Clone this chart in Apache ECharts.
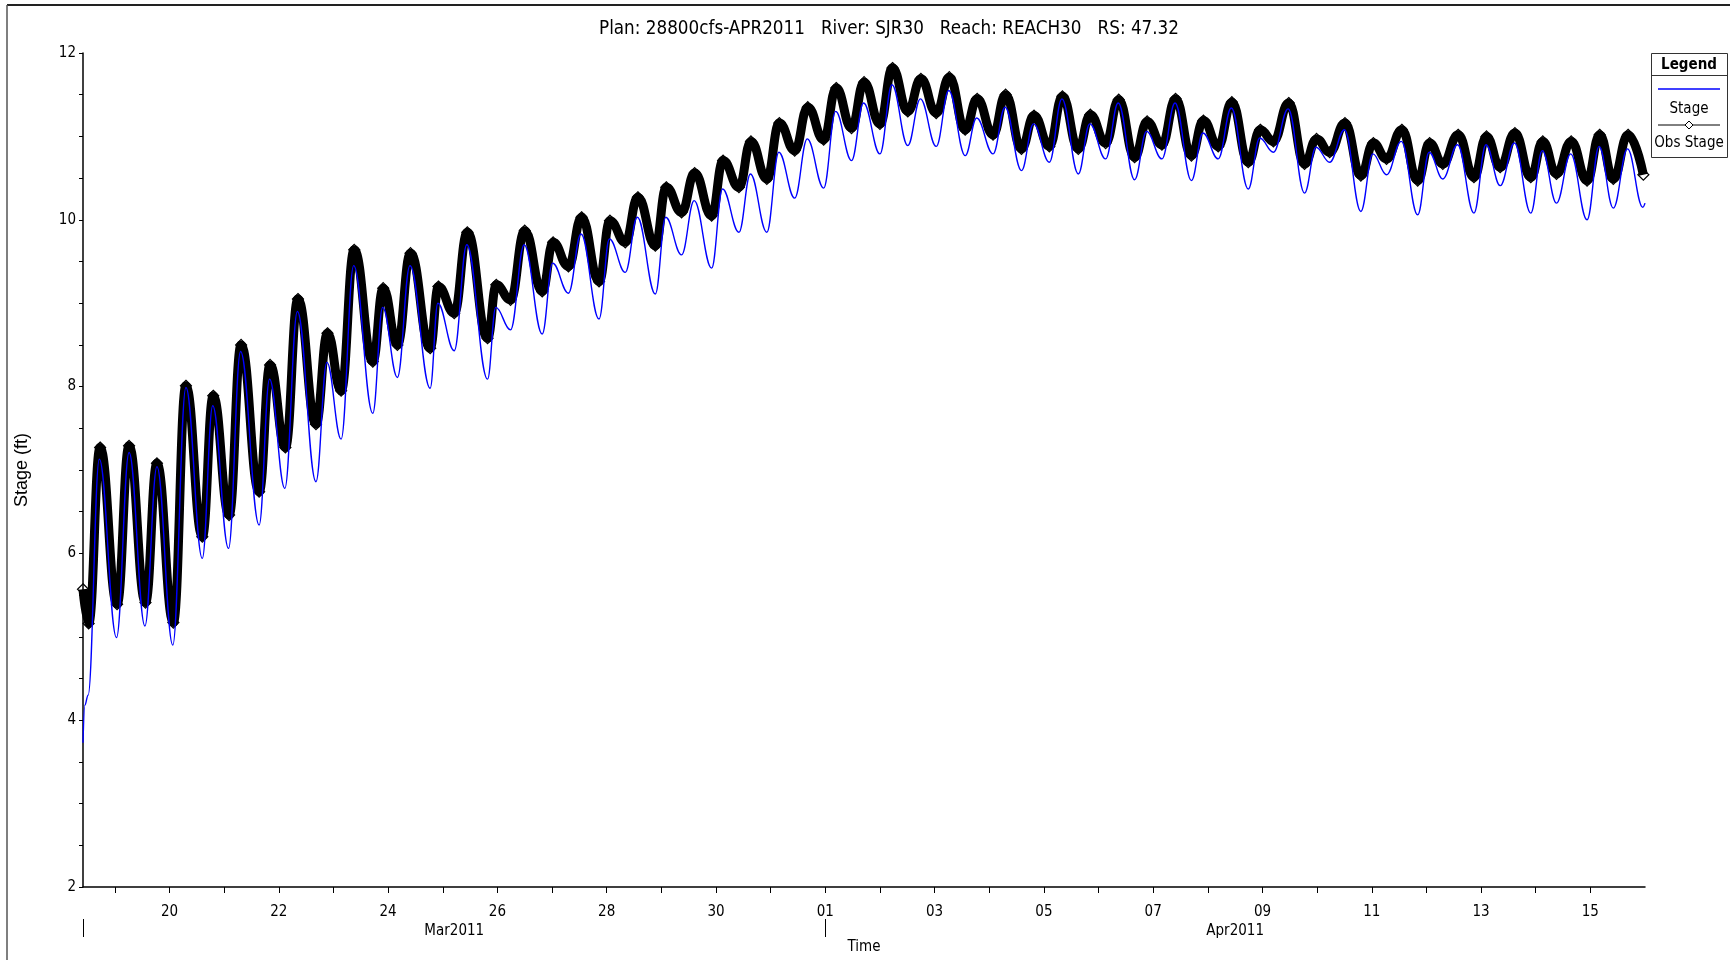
<!DOCTYPE html>
<html><head><meta charset="utf-8">
<script src="https://cdn.jsdelivr.net/npm/echarts@6/dist/echarts.min.js"></script>
<style>html,body{margin:0;padding:0;background:#fff}#c{width:1730px;height:960px}</style>
</head><body><div id="c"></div>
<script>
// ---- data (x = day number: Mar d = d, Apr d = 31 + d) ----
const titleText = 'Plan: 28800cfs-APR2011   River: SJR30   Reach: REACH30   RS: 47.32';
const xMin = 18.4167, xMax = 47;
const stageDays = [18.4167,18.45,18.51,18.715,19.03,19.26,19.55,19.77,20.06,20.30,20.60,20.79,21.08,21.30,21.64,21.83,22.11,22.34,22.68,22.88,23.14,23.37,23.72,23.90,24.17,24.40,24.77,24.91,25.21,25.44,25.82,25.97,26.24,26.49,26.82,27.01,27.30,27.53,27.86,28.05,28.34,28.56,28.89,29.08,29.37,29.60,29.92,30.12,30.42,30.63,30.93,31.15,31.44,31.67,31.97,32.19,32.48,32.70,33.00,33.22,33.51,33.74,34.03,34.26,34.56,34.77,35.07,35.29,35.59,35.81,36.10,36.33,36.63,36.84,37.13,37.36,37.66,37.88,38.16,38.40,38.70,38.91,39.19,39.43,39.74,39.95,40.20,40.47,40.77,40.98,41.23,41.50,41.80,42.02,42.27,42.54,42.84,43.05,43.30,43.57,43.87,44.09,44.35,44.61,44.91,45.12,45.38,45.64,45.94,46.16,46.42,46.68,46.96,47.0];
const stageValues = [3.73,4.18,4.30,7.13,4.99,7.21,5.13,7.04,4.90,7.99,5.94,7.77,6.06,8.42,6.34,8.09,6.78,8.90,6.86,8.29,7.37,9.45,7.68,8.95,8.11,9.45,7.98,9.00,8.43,9.70,8.09,8.95,8.68,9.70,8.63,9.48,9.12,9.83,8.81,9.77,9.37,10.03,9.11,10.03,9.58,10.23,9.42,10.37,9.85,10.55,9.85,10.81,10.26,10.97,10.38,11.30,10.71,11.40,10.79,11.62,10.89,11.45,10.88,11.55,10.77,11.22,10.79,11.35,10.59,11.15,10.69,11.45,10.55,11.15,10.73,11.40,10.48,11.06,10.73,11.40,10.47,11.04,10.73,11.34,10.37,10.98,10.81,11.33,10.32,10.87,10.69,11.08,10.10,10.79,10.54,10.94,10.06,10.81,10.49,10.90,10.08,10.90,10.41,10.92,10.08,10.83,10.20,10.79,10.00,10.88,10.14,10.85,10.15,10.20];
const obsDays = [18.4167,18.52,18.73,19.04,19.26,19.56,19.77,20.07,20.30,20.60,20.80,21.09,21.31,21.64,21.84,22.12,22.35,22.68,22.89,23.14,23.38,23.72,23.91,24.17,24.41,24.77,24.92,25.21,25.45,25.82,25.98,26.24,26.50,26.82,27.02,27.30,27.54,27.86,28.06,28.34,28.57,28.89,29.09,29.37,29.61,29.92,30.13,30.42,30.64,30.93,31.16,31.44,31.68,31.97,32.20,32.48,32.71,33.00,33.23,33.51,33.75,34.03,34.27,34.56,34.78,35.07,35.30,35.59,35.82,36.10,36.34,36.63,36.85,37.13,37.37,37.66,37.89,38.16,38.41,38.70,38.92,39.19,39.44,39.74,39.96,40.20,40.48,40.77,40.99,41.23,41.51,41.80,42.03,42.27,42.55,42.84,43.06,43.30,43.58,43.87,44.10,44.35,44.62,44.91,45.13,45.38,45.65,45.94,46.17,46.42,46.69,46.97];
const obsValues = [5.57,5.16,7.27,5.39,7.29,5.41,7.08,5.17,8.01,6.20,7.89,6.46,8.50,6.74,8.26,7.27,9.05,7.55,8.64,7.95,9.64,8.30,9.18,8.50,9.60,8.46,9.20,8.88,9.85,8.58,9.22,9.04,9.87,9.14,9.73,9.44,10.03,9.26,9.99,9.73,10.27,9.69,10.39,10.09,10.56,10.05,10.71,10.39,10.94,10.49,11.16,10.83,11.35,10.96,11.58,11.10,11.65,11.15,11.82,11.30,11.69,11.28,11.71,11.08,11.45,11.02,11.50,10.85,11.25,10.88,11.48,10.85,11.26,10.92,11.44,10.75,11.18,10.90,11.45,10.77,11.19,10.88,11.41,10.69,11.08,10.94,11.40,10.67,10.97,10.81,11.16,10.53,10.92,10.73,11.08,10.47,10.92,10.67,11.02,10.51,11.00,10.63,11.04,10.51,10.94,10.55,10.94,10.47,11.02,10.49,11.02,10.54];
const dayTicks = [19,20,21,22,23,24,25,26,27,28,29,30,31,32,33,34,35,36,37,38,39,40,41,42,43,44,45,46];
const dayLabels = [20,22,24,26,28,30,32,34,36,38,40,42,44,46];
const monthStarts = [18.4167, 32];
const monthLabelDays = [25.21, 39.5];
const monthNames = ['Mar2011', 'Apr2011'];
const seriesNames = ['Stage', 'Obs Stage'];

const NARROW = "'Liberation Sans Narrow','Arial Narrow','DejaVu Sans Condensed','Liberation Sans',sans-serif";
const REG = "'Liberation Sans',Arial,sans-serif";

const chart = echarts.init(document.getElementById('c'), null, {renderer: 'canvas'});
const dayText = v => { const n = Math.round(v); return n <= 31 ? String(n) : String(n - 31).padStart(2, '0'); };

const option = {
  animation: false,
  backgroundColor: '#fff',
  title: {text: titleText, left: 594, top: 15,
    textStyle: {fontFamily: NARROW, fontSize: 18.7, fontWeight: 'normal', color: '#000'}},
  grid: {left: 83, top: 53, right: 85, bottom: 66, containLabel: false},
  xAxis: [{
    type: 'value', min: xMin, max: xMax, position: 'bottom',
    name: 'Time', nameLocation: 'middle', nameGap: 53,
    nameTextStyle: {fontFamily: NARROW, fontSize: 15, color: '#000'},
    axisLine: {show: true, onZero: false, lineStyle: {color: '#000', width: 1.5}},
    axisTick: {show: true, customValues: dayTicks, length: 6, lineStyle: {color: '#000', width: 1}},
    axisLabel: {customValues: dayLabels, formatter: dayText, margin: 18,
      fontFamily: NARROW, fontSize: 15, color: '#000'},
    splitLine: {show: false}
  }, {
    type: 'value', min: xMin, max: xMax, position: 'bottom', offset: 32,
    axisLine: {show: false},
    axisTick: {show: true, customValues: monthStarts, length: 18, lineStyle: {color: '#000', width: 1}},
    axisLabel: {customValues: monthLabelDays, formatter: v => monthNames[v < 32 ? 0 : 1], margin: 5,
      fontFamily: NARROW, fontSize: 15, color: '#000'},
    splitLine: {show: false}
  }],
  yAxis: {
    type: 'value', min: 2, max: 12, interval: 0.5,
    name: 'Stage (ft)', nameLocation: 'middle', nameGap: 52,
    nameTextStyle: {fontFamily: REG, fontSize: 18, color: '#000'},
    axisLine: {show: true, lineStyle: {color: '#000', width: 1.5}},
    axisTick: {show: true, length: 4, lineStyle: {color: '#000'}},
    axisLabel: {formatter: v => (Math.abs(v % 2) < 1e-6 ? String(v) : ''), margin: 7,
      fontFamily: NARROW, fontSize: 15, color: '#000'},
    splitLine: {show: false}
  },
  series: [{
    name: seriesNames[1], type: 'line', xAxisIndex: 0, z: 2,
    data: obsDays.map((d, i) => [d, obsValues[i]]),
    smooth: 0.45, smoothMonotone: 'x',
    symbol: 'diamond', symbolSize: 11, showSymbol: true,
    itemStyle: {color: 'rgba(0,0,0,0)', borderColor: '#000', borderWidth: 1.2},
    lineStyle: {color: '#000', width: 9}
  }, {
    name: seriesNames[0], type: 'line', xAxisIndex: 0, z: 3,
    data: stageDays.map((d, i) => [d, stageValues[i]]),
    smooth: 0.4, smoothMonotone: 'x', showSymbol: false, symbol: 'none',
    lineStyle: {color: '#0000ff', width: 1.4}
  }],
  graphic: [
    {type: 'line', shape: {x1: 7, y1: 5, x2: 1730, y2: 5}, style: {stroke: '#222', lineWidth: 2}},
    {type: 'line', shape: {x1: 7, y1: 5, x2: 7, y2: 960}, style: {stroke: '#555', lineWidth: 1.5}},
    {type: 'rect', shape: {x: 1651.5, y: 53.5, width: 76, height: 104}, style: {fill: '#fff', stroke: '#333', lineWidth: 1}},
    {type: 'line', shape: {x1: 1651.5, y1: 75.5, x2: 1727.5, y2: 75.5}, style: {stroke: '#333', lineWidth: 1}},
    {type: 'text', x: 1689, y: 65, style: {text: 'Legend', fontFamily: NARROW, fontSize: 15, fontWeight: 'bold', fill: '#000', align: 'center', verticalAlign: 'middle'}},
    {type: 'line', shape: {x1: 1658, y1: 89, x2: 1720, y2: 89}, style: {stroke: '#0000ff', lineWidth: 1.5}},
    {type: 'text', x: 1689, y: 109, style: {text: seriesNames[0], fontFamily: NARROW, fontSize: 15, fill: '#000', align: 'center', verticalAlign: 'middle'}},
    {type: 'line', shape: {x1: 1658, y1: 125, x2: 1720, y2: 125}, style: {stroke: '#000', lineWidth: 1}},
    {type: 'polygon', shape: {points: [[1689, 121], [1693, 125], [1689, 129], [1685, 125]]}, style: {fill: '#fff', stroke: '#000', lineWidth: 1}},
    {type: 'text', x: 1689, y: 143, style: {text: seriesNames[1], fontFamily: NARROW, fontSize: 15, fill: '#000', align: 'center', verticalAlign: 'middle'}}
  ]
};
chart.setOption(option);
</script></body></html>
